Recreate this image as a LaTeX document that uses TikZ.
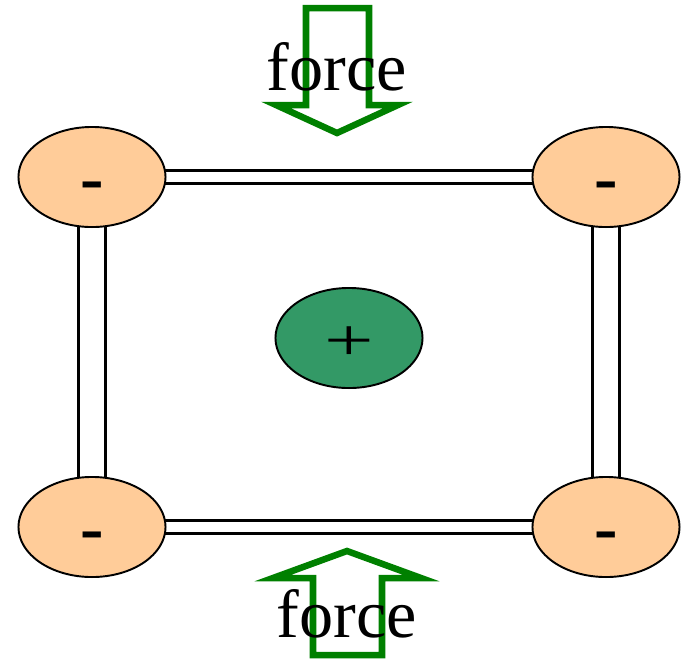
\documentclass[tikz,border=0pt]{standalone}
\usepackage{fontspec}
\setmainfont{Liberation Serif}
\usetikzlibrary{shapes.geometric,backgrounds}
\definecolor{peach}{HTML}{FFCC99}
\definecolor{nucleus}{HTML}{339966}
\definecolor{forcegreen}{HTML}{008000}

\begin{document}
\begin{tikzpicture}[x=0.01cm,y=-0.01cm,
  charge/.style={ellipse,draw,line width=0.55pt,minimum width=1.47cm,minimum height=1cm,inner sep=0pt},
  electron/.style={charge,fill=peach,font=\fontsize{20}{20}\selectfont\bfseries,text height=14pt,text depth=0pt},
  proton/.style={charge,fill=nucleus,font=\fontsize{25}{25}\selectfont,text height=13pt,text depth=0pt},
  hbar/.style={draw,line width=0.8pt,double=white,double distance=0.105cm},
  vbar/.style={draw,line width=0.8pt,double=white,double distance=0.245cm},
  push/.style={draw=forcegreen,line width=0.065cm},
  label/.style={font=\fontsize{19.4}{20}\selectfont,anchor=base}]
  \useasboundingbox (0,0) rectangle (687,666);
  % charges
  \node[electron] (tl) at (92,177) {-};
  \node[electron] (tr) at (606,177) {-};
  \node[electron] (bl) at (92,527) {-};
  \node[electron] (br) at (606,527) {-};
  \node[proton] (core) at (349,338) {\scalebox{1}[0.68]{+}};
  % bonds
  \begin{scope}[on background layer]
    \draw[hbar] (tl.center) -- (tr.center);
    \draw[hbar] (bl.center) -- (br.center);
    \draw[vbar] (tl.center) -- (bl.center);
    \draw[vbar] (tr.center) -- (br.center);
  \end{scope}
  % forces
  \draw[push] (306,8) -- (369,8) -- (369,105) -- (398,105) -- (337,133)
    -- (276,105) -- (306,105) -- cycle;
  \node[label] (ftop) at (337,90) {force};
  \draw[push] (313,655) -- (382,655) -- (382,578) -- (421,578) -- (347,551)
    -- (273,578) -- (313,578) -- cycle;
  \node[label] (fbot) at (347,637) {force};
\end{tikzpicture}
\end{document}
